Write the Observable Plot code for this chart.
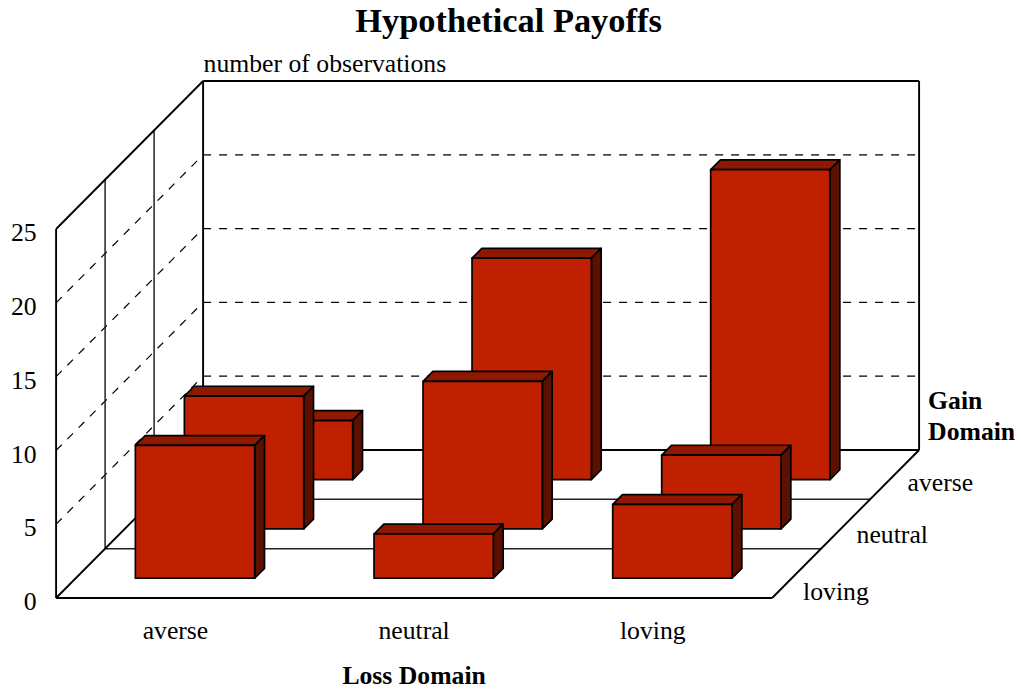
<!DOCTYPE html>
<html>
<head>
<meta charset="utf-8">
<style>html,body{margin:0;padding:0;background:#fff}svg{display:block}</style>
<script src="https://cdn.jsdelivr.net/npm/d3@7"></script>
<script src="https://cdn.jsdelivr.net/npm/@observablehq/plot@0.6"></script>
</head>
<body>
<script>
const lossCategories = ["averse", "neutral", "loving"];
const gainCategories = ["loving", "neutral", "averse"]; // front to back
const gainLovingCounts = [9, 3, 5];
const gainNeutralCounts = [9, 10, 5];
const gainAverseCounts = [4, 15, 21];
const valueTicks = [0, 5, 10, 15, 20, 25];
const title = "Hypothetical Payoffs";
const valueLabel = "number of observations";
const lossLabel = "Loss Domain";
const gainLabel = "Gain\nDomain";

const countsByRow = [gainLovingCounts, gainNeutralCounts, gainAverseCounts];
const C = lossCategories.length, R = gainCategories.length, V = 25;

// Oblique projection: one row of depth shifts by this many columns and counts.
const shearX = 49 / (716 / 3), shearY = 49.33 / (369 / 25);
const pt = (col, depth, val) => ({x: col + depth * shearX, y: val + depth * shearY});
const poly = (...p) => p.map(([c, d, v]) => pt(c, d, v));
const seg = (a, b, o) => Plot.line(poly(a, b), {x: "x", y: "y", strokeLinecap: "butt", ...o});

const BLACK = {stroke: "#000", strokeWidth: 1.9};
const GREY = {stroke: "#222", strokeWidth: 1.5};
const DASH = {stroke: "#000", strokeWidth: 1.2, strokeDasharray: "8,8"};

const marks = [];
// Dashed gridlines on both walls
for (const v of valueTicks.slice(1, -1)) {
  marks.push(seg([0, R, v], [C, R, v], DASH));
  marks.push(seg([0, 0, v], [0, R, v], DASH));
}
// Row dividers on floor and wall
for (let r = 1; r < R; r++) {
  marks.push(seg([0, r, 0], [C, r, 0], GREY));
  marks.push(seg([0, r, 0], [0, r, V], GREY));
}
// Frame
for (const [a, b] of [
  [[0, 0, 0], [C, 0, 0]],
  [[C, 0, 0], [C, R, 0]],
  [[0, 0, 0], [0, R, 0]],
  [[0, R, 0], [C, R, 0]],
  [[0, 0, 0], [0, 0, V]],
  [[0, 0, V], [0, R, V]],
  [[0, R, V], [C, R, V]],
  [[0, R, 0], [0, R, V]],
  [[C, R, 0], [C, R, V]]
]) marks.push(seg(a, b, BLACK));

// Bars, back to front
for (let r = R - 1; r >= 0; r--) {
  countsByRow[r].forEach((v, c) => {
    const x0 = c + 0.25, x1 = c + 0.75, d0 = r + 0.4, d1 = r + 0.6;
    const face = (fill, ...p) => Plot.line(poly(...p), {
      x: "x", y: "y", fill, stroke: "#000", strokeWidth: 1.7, curve: "linear-closed"
    });
    marks.push(
      face("#8f1800", [x0, d0, v], [x1, d0, v], [x1, d1, v], [x0, d1, v]),
      face("#5c1000", [x1, d0, 0], [x1, d1, 0], [x1, d1, v], [x1, d0, v]),
      face("#bf2100", [x0, d0, 0], [x1, d0, 0], [x1, d0, v], [x0, d0, v])
    );
  });
}

const FS = 25.7;
// Value ticks
marks.push(Plot.text(valueTicks, {
  x: () => 0, y: d => d, text: d => String(d),
  textAnchor: "end", dx: -19.5, dy: 4, fontSize: FS, fill: "#000"
}));
// Loss categories
marks.push(Plot.text(lossCategories, {
  x: (d, i) => i + 0.5, y: () => 0, text: d => d,
  dy: 32.5, fontSize: FS, fill: "#000"
}));
// Gain categories
const gainDx = [6.5, 11, 13], gainDy = [18, 10.5, 8];
marks.push(Plot.text(gainCategories, {
  x: (d, i) => C + (i + 0.5) * shearX, y: (d, i) => (i + 0.5) * shearY, text: d => d,
  textAnchor: "start", fontSize: FS, fill: "#000",
  render(index, scales, values, dims, ctx, next) {
    const g = next(index, scales, values, dims, ctx);
    d3.select(g).selectAll("text").each(function (_, k) {
      const i = index[k];
      d3.select(this).attr("transform", `translate(${values.x[i] + gainDx[i]},${values.y[i] + gainDy[i]})`);
    });
    return g;
  }
}));
// Titles
marks.push(Plot.text([title], {
  frameAnchor: "top", text: d => d, dy: 7, dx: -2.5, fontSize: 34.4, fontWeight: "bold", fill: "#000", lineAnchor: "top"
}));
marks.push(Plot.text([valueLabel], {
  x: () => pt(0, R, V).x, y: () => pt(0, R, V).y, text: d => d,
  textAnchor: "start", dx: 0.5, dy: -17.5, fontSize: FS, fill: "#000"
}));
marks.push(Plot.text([lossLabel], {
  x: () => C / 2, y: () => 0, text: d => d,
  dy: 77.5, fontSize: FS, fontWeight: "bold", fill: "#000"
}));
marks.push(Plot.text([gainLabel], {
  x: () => pt(C, R, 0).x, y: () => pt(C, R, 0).y, text: d => d,
  textAnchor: "start", dx: 9, dy: -35.5, fontSize: FS, fontWeight: "bold", fill: "#000", lineHeight: 1.2
}));

const chart = Plot.plot({
  width: 1021,
  height: 694,
  margin: 0,
  x: {domain: [0, C], range: [55.6, 771.6], axis: null},
  y: {domain: [0, V], range: [597.5, 228.5], axis: null},
  style: {fontFamily: "'Liberation Serif', serif", background: "#fff"},
  marks
});
document.body.append(chart);
</script>
</body>
</html>
